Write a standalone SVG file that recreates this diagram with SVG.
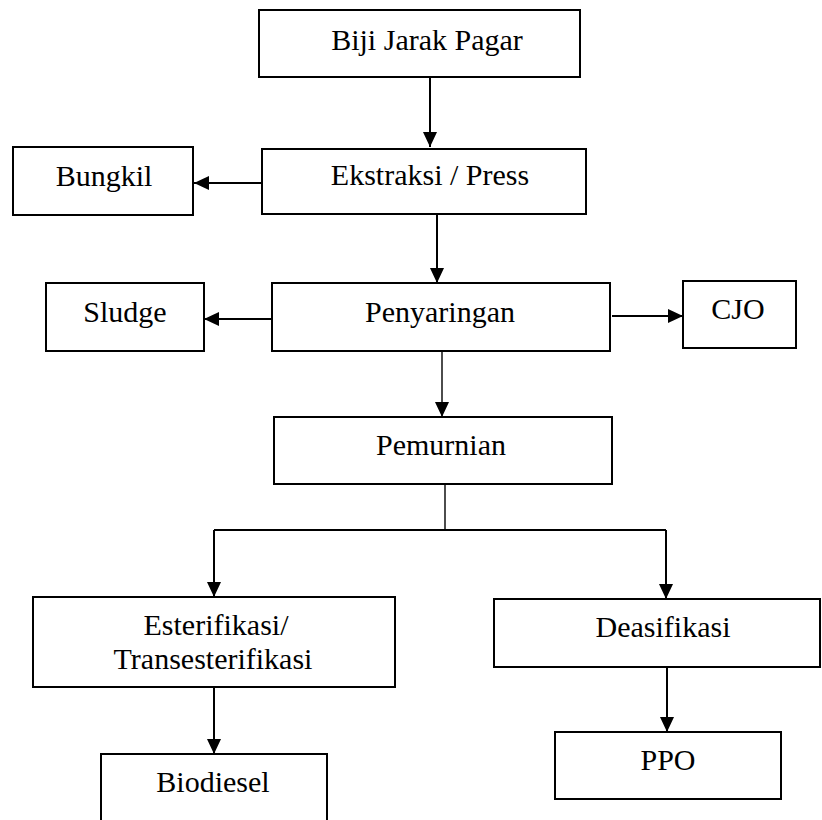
<svg xmlns="http://www.w3.org/2000/svg" width="822" height="820" viewBox="0 0 822 820">
<style>
.box{fill:#fff;stroke:#000;stroke-width:2}
.lbl{font-family:'Liberation Serif','Times New Roman','DejaVu Serif',serif;font-size:30px;fill:#000;text-anchor:middle}
.con{fill:none;stroke:#000;stroke-width:2}
.thin{stroke-width:1.4}
</style>
<defs>
<marker id="ah" markerUnits="userSpaceOnUse" markerWidth="16" markerHeight="14" viewBox="0 0 16 14" refX="15" refY="7" orient="auto">
<path d="M0,0 L15,7 L0,14 Z" fill="#000"/>
</marker>
</defs>
<rect width="822" height="820" fill="#fff"/>
<g id="connectors">
<line class="con" x1="430" y1="77" x2="430" y2="147" marker-end="url(#ah)"/>
<line class="con" x1="262" y1="183" x2="194" y2="183" marker-end="url(#ah)"/>
<line class="con" x1="437" y1="214" x2="437" y2="283" marker-end="url(#ah)"/>
<line class="con" x1="272" y1="319" x2="204" y2="319" marker-end="url(#ah)"/>
<line class="con" x1="612" y1="316" x2="683" y2="316" marker-end="url(#ah)"/>
<line class="con thin" x1="442" y1="351" x2="442" y2="417" marker-end="url(#ah)"/>
<polyline class="con thin" points="445,484 445,530"/>
<polyline class="con" points="214,530 666,530"/>
<line class="con" x1="214" y1="530" x2="214" y2="597" marker-end="url(#ah)"/>
<line class="con" x1="666" y1="530" x2="666" y2="599" marker-end="url(#ah)"/>
<line class="con" x1="214" y1="687" x2="214" y2="754" marker-end="url(#ah)"/>
<line class="con" x1="667" y1="667" x2="667" y2="732" marker-end="url(#ah)"/>
</g>
<g id="biji"><rect class="box" x="259" y="10" width="321" height="67"/><text class="lbl" x="427" y="50">Biji Jarak Pagar</text></g>
<g id="ekstraksi"><rect class="box" x="262" y="149" width="324" height="65"/><text class="lbl" x="430" y="185">Ekstraksi / Press</text></g>
<g id="bungkil"><rect class="box" x="13" y="147" width="180" height="68"/><text class="lbl" x="104" y="186">Bungkil</text></g>
<g id="penyaringan"><rect class="box" x="272" y="283" width="338" height="68"/><text class="lbl" x="440" y="322">Penyaringan</text></g>
<g id="sludge"><rect class="box" x="46" y="283" width="158" height="68"/><text class="lbl" x="125" y="322">Sludge</text></g>
<g id="cjo"><rect class="box" x="683" y="281" width="113" height="67"/><text class="lbl" x="738" y="319">CJO</text></g>
<g id="pemurnian"><rect class="box" x="274" y="417" width="338" height="67"/><text class="lbl" x="441" y="455">Pemurnian</text></g>
<g id="esterifikasi"><rect class="box" x="33" y="597" width="362" height="90"/><text class="lbl" x="216" y="635">Esterifikasi/</text><text class="lbl" x="213" y="669">Transesterifikasi</text></g>
<g id="biodiesel"><rect class="box" x="101" y="754" width="226" height="80"/><text class="lbl" x="213" y="792">Biodiesel</text></g>
<g id="deasifikasi"><rect class="box" x="494" y="599" width="326" height="68"/><text class="lbl" x="663" y="637">Deasifikasi</text></g>
<g id="ppo"><rect class="box" x="555" y="732" width="226" height="67"/><text class="lbl" x="668" y="770">PPO</text></g>
</svg>
